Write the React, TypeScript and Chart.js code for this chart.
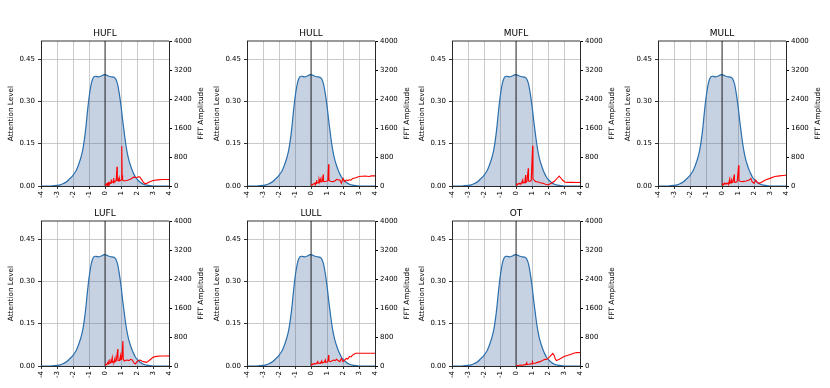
import React, { useEffect, useRef } from "react";
import { Chart, registerables } from "chart.js";

Chart.register(...registerables);

// ---------- data ----------
const panelNames = ["HUFL", "HULL", "MUFL", "MULL", "LUFL", "LULL", "OT"];

const attentionX = [-4, -3.5, -3.2, -3.0, -2.8, -2.6, -2.4, -2.2, -2.0, -1.9, -1.8, -1.7, -1.6, -1.5, -1.4, -1.3, -1.2, -1.1, -1.0, -0.9, -0.8, -0.7, -0.6, -0.5, -0.4, -0.3, -0.2, -0.1, 0, 0.1, 0.2, 0.3, 0.4, 0.5, 0.6, 0.7, 0.8, 0.9, 1.0, 1.1, 1.2, 1.3, 1.4, 1.5, 1.6, 1.7, 1.8, 1.9, 2.0, 2.2, 2.4, 2.6, 2.8, 3.0, 3.5, 4.0];
const attentionLevel = [0, 0, 0.001, 0.002, 0.004, 0.009, 0.015, 0.026, 0.038, 0.046, 0.055, 0.068, 0.084, 0.102, 0.125, 0.16, 0.205, 0.262, 0.312, 0.35, 0.375, 0.387, 0.389, 0.388, 0.387, 0.388, 0.391, 0.394, 0.395, 0.393, 0.39, 0.388, 0.387, 0.386, 0.384, 0.376, 0.358, 0.325, 0.285, 0.235, 0.19, 0.148, 0.115, 0.09, 0.072, 0.056, 0.043, 0.032, 0.024, 0.013, 0.006, 0.003, 0.001, 0, 0, 0];

const fftHUFL: [number, number][] = [[0,30],[0.05,40],[0.1,60],[0.12,45],[0.15,70],[0.18,55],[0.2,80],[0.22,60],[0.25,95],[0.26,60],[0.3,85],[0.33,70],[0.36,110],[0.37,75],[0.4,180],[0.41,90],[0.45,100],[0.5,120],[0.52,95],[0.56,220],[0.57,110],[0.62,130],[0.7,150],[0.75,530],[0.77,160],[0.82,140],[0.88,230],[0.9,140],[0.96,150],[1.02,170],[1.05,1100],[1.07,300],[1.1,170],[1.2,140],[1.35,150],[1.5,170],[1.65,200],[1.8,250],[1.9,235],[2.0,240],[2.1,255],[2.18,250],[2.3,170],[2.42,90],[2.55,60],[2.8,120],[3.0,150],[3.3,170],[3.6,178],[4.0,180]];
const fftHULL: [number, number][] = [[0,30],[0.05,45],[0.1,35],[0.15,60],[0.2,50],[0.25,80],[0.28,55],[0.32,90],[0.35,165],[0.36,80],[0.42,100],[0.48,90],[0.5,185],[0.51,95],[0.56,110],[0.62,210],[0.63,110],[0.7,120],[0.77,320],[0.78,130],[0.85,120],[0.95,130],[1.05,140],[1.1,600],[1.12,160],[1.2,130],[1.35,120],[1.5,140],[1.6,185],[1.7,170],[1.8,165],[1.9,75],[2.0,210],[2.1,120],[2.2,165],[2.3,150],[2.4,170],[2.5,160],[2.6,210],[2.8,230],[3.0,260],[3.2,270],[3.4,275],[3.6,262],[3.8,280],[4.0,280]];
const fftMUFL: [number, number][] = [[0,30],[0.05,50],[0.1,40],[0.15,70],[0.2,55],[0.25,80],[0.3,60],[0.35,90],[0.42,165],[0.43,80],[0.5,100],[0.55,90],[0.6,300],[0.61,100],[0.68,120],[0.77,490],[0.78,140],[0.85,130],[0.95,150],[1.04,1110],[1.06,200],[1.12,170],[1.23,120],[1.4,110],[1.5,90],[1.65,80],[1.8,55],[2.0,30],[2.2,75],[2.4,130],[2.55,200],[2.7,275],[2.8,220],[2.9,165],[3.05,110],[3.2,100],[3.5,100],[3.8,98],[4.0,100]];
const fftMULL: [number, number][] = [[0,30],[0.05,60],[0.1,40],[0.15,80],[0.2,50],[0.25,70],[0.3,90],[0.31,60],[0.38,80],[0.42,70],[0.48,185],[0.49,80],[0.55,90],[0.6,165],[0.61,90],[0.68,100],[0.77,320],[0.78,110],[0.85,100],[0.95,120],[1.04,570],[1.06,150],[1.15,130],[1.3,120],[1.5,140],[1.7,165],[1.8,210],[1.88,120],[2.0,75],[2.1,165],[2.2,100],[2.3,75],[2.45,95],[2.6,140],[2.75,170],[3.0,210],[3.3,260],[3.6,280],[3.8,290],[4.0,295]];
const fftLUFL: [number, number][] = [[0,30],[0.05,50],[0.1,40],[0.15,70],[0.2,120],[0.21,60],[0.25,80],[0.3,185],[0.31,80],[0.38,100],[0.45,230],[0.46,100],[0.52,120],[0.56,110],[0.62,210],[0.63,120],[0.7,140],[0.8,470],[0.81,160],[0.9,150],[0.98,300],[0.99,170],[1.05,180],[1.12,690],[1.14,200],[1.2,140],[1.3,160],[1.4,165],[1.5,150],[1.6,185],[1.7,165],[1.8,90],[1.9,55],[2.0,120],[2.1,150],[2.2,165],[2.3,140],[2.4,120],[2.6,100],[2.8,165],[3.0,240],[3.2,265],[3.5,275],[3.8,275],[4.0,278]];
const fftLULL: [number, number][] = [[0,30],[0.05,50],[0.1,45],[0.2,65],[0.3,60],[0.35,80],[0.42,120],[0.43,70],[0.5,80],[0.58,75],[0.67,140],[0.68,80],[0.75,90],[0.82,100],[0.9,165],[0.91,100],[1.0,110],[1.05,120],[1.1,300],[1.12,150],[1.2,120],[1.3,140],[1.4,165],[1.5,150],[1.6,185],[1.7,150],[1.8,120],[1.9,210],[2.0,120],[2.1,165],[2.2,210],[2.3,190],[2.4,260],[2.5,250],[2.6,300],[2.7,330],[2.8,350],[3.0,352],[3.3,350],[3.6,352],[4.0,350]];
const fftOT: [number, number][] = [[0,10],[0.1,15],[0.2,20],[0.3,25],[0.4,20],[0.5,30],[0.6,35],[0.67,90],[0.68,40],[0.8,50],[0.9,60],[1.0,55],[1.02,150],[1.03,70],[1.1,75],[1.2,75],[1.35,100],[1.5,120],[1.65,150],[1.8,185],[1.9,180],[2.0,210],[2.1,250],[2.2,300],[2.3,350],[2.38,300],[2.45,200],[2.52,150],[2.6,165],[2.7,185],[2.85,220],[3.0,260],[3.2,290],[3.4,320],[3.6,350],[3.8,370],[4.0,372]];

const fftSeries = [fftHUFL, fftHULL, fftMUFL, fftMULL, fftLUFL, fftLULL, fftOT];

const xTickLabels = ["-4", "-3", "-2", "-1", "0", "1", "2", "3", "4"];
const xMin = -4, xMax = 4;
const attnMax = 0.514;
const fftMax = 4000;

// ---------- layout ----------
const LEFT_W = 41;
const RIGHT_W = 42;
const PLOT_W = 128;
const PAD_TOP = 41;
const X_H = 24;
const PLOT_H = 145;
const CANVAS_W = LEFT_W + PLOT_W + RIGHT_W;
const CANVAS_H = PAD_TOP + PLOT_H + X_H;
const FONT = '"DejaVu Sans", "Liberation Sans", sans-serif';

const decorPlugin = {
  id: "decor",
  afterDraw(chart: any, _args: any, opts: any) {
    const { ctx, chartArea: a } = chart;
    ctx.save();
    ctx.strokeStyle = "#000";
    ctx.lineWidth = 0.8;
    ctx.beginPath();
    ctx.moveTo(a.left, a.top);
    ctx.lineTo(a.right, a.top);
    ctx.stroke();
    ctx.fillStyle = "#000";
    ctx.textAlign = "center";
    ctx.textBaseline = "alphabetic";
    ctx.font = `9px ${FONT}`;
    ctx.fillText(opts.title, (a.left + a.right) / 2, a.top - 5);
    const cy = (a.top + a.bottom) / 2;
    ctx.font = `7.3px ${FONT}`;
    ctx.textBaseline = "middle";
    ctx.save();
    ctx.translate(a.left - 29.5, cy);
    ctx.rotate(-Math.PI / 2);
    ctx.fillText("Attention Level", 0, 0);
    ctx.restore();
    ctx.save();
    ctx.translate(a.right + 32.5, cy);
    ctx.rotate(-Math.PI / 2);
    ctx.fillText("FFT Amplitude", 0, 0);
    ctx.restore();
    ctx.restore();
  },
};

function Panel({ index, left, top }: { index: number; left: number; top: number }) {
  const ref = useRef<HTMLCanvasElement | null>(null);
  useEffect(() => {
    if (!ref.current) return;
    const tickFont = { family: FONT, size: 7 };
    const chart = new Chart(ref.current, {
      type: "line",
      data: {
        datasets: [
          {
            data: fftSeries[index].map(([x, y]) => ({ x, y })),
            yAxisID: "y1",
            borderColor: "#ff0000",
            borderWidth: 1.1,
            pointRadius: 0,
            fill: false,
            tension: 0,
            order: 0,
          },
          {
            data: [{ x: 0, y: 0 }, { x: 0, y: attnMax }],
            yAxisID: "y",
            borderColor: "rgba(0,0,0,0.75)",
            borderWidth: 1,
            pointRadius: 0,
            fill: false,
            order: 1,
          },
          {
            data: attentionX.map((x, i) => ({ x, y: attentionLevel[i] })),
            yAxisID: "y",
            borderColor: "#2a6fad",
            borderWidth: 1.2,
            backgroundColor: "rgba(50,90,150,0.28)",
            pointRadius: 0,
            fill: "origin",
            cubicInterpolationMode: "monotone",
            order: 2,
          },
        ],
      },
      options: {
        responsive: false,
        animation: false,
        events: [],
        layout: { padding: { top: PAD_TOP, left: 0, right: 0, bottom: 0 } },
        plugins: {
          legend: { display: false },
          tooltip: { enabled: false },
          title: { display: false },
          decor: { title: panelNames[index] },
        } as any,
        scales: {
          x: {
            type: "linear",
            min: xMin,
            max: xMax,
            afterFit: (s: any) => { s.height = X_H; },
            border: { display: true, color: "#000", width: 0.8 },
            grid: { color: "#bdbdbd", lineWidth: 0.8, tickColor: "#000", tickLength: 3, drawTicks: true },
            ticks: {
              stepSize: 1,
              autoSkip: false,
              minRotation: 90,
              maxRotation: 90,
              padding: 2,
              color: "#000",
              font: tickFont,
              callback: (v: any) => xTickLabels[Math.round(Number(v) - xMin)],
            },
          },
          y: {
            type: "linear",
            position: "left",
            min: 0,
            max: attnMax,
            afterFit: (s: any) => { s.width = LEFT_W; },
            border: { display: true, color: "#000", width: 0.8 },
            grid: { color: "#bdbdbd", lineWidth: 0.8, tickColor: "#000", tickLength: 3, drawTicks: true },
            ticks: {
              stepSize: 0.15,
              includeBounds: false,
              padding: 3,
              color: "#000",
              font: tickFont,
              callback: (v: any) => Number(v).toFixed(2),
            },
          },
          y1: {
            type: "linear",
            position: "right",
            min: 0,
            max: fftMax,
            afterFit: (s: any) => { s.width = RIGHT_W; },
            border: { display: true, color: "#000", width: 0.8 },
            grid: { drawOnChartArea: false, tickColor: "#000", tickLength: 3, drawTicks: true },
            ticks: {
              stepSize: 800,
              padding: 2,
              color: "#000",
              font: tickFont,
              callback: (v: any) => String(v),
            },
          },
        },
      } as any,
      plugins: [decorPlugin],
    });
    return () => chart.destroy();
  }, [index]);
  return (
    <canvas
      ref={ref}
      width={CANVAS_W}
      height={CANVAS_H}
      style={{ position: "absolute", left, top, width: CANVAS_W, height: CANVAS_H }}
    />
  );
}

export default function App() {
  const colLeft = [0, 206, 411, 617];
  const rowTop = [0, 180];
  return (
    <div style={{ position: "absolute", left: 0, top: 0, width: 830, height: 388, overflow: "hidden", background: "#fff" }}>
      {panelNames.map((_, i) => (
        <Panel key={i} index={i} left={colLeft[i % 4]} top={rowTop[Math.floor(i / 4)]} />
      ))}
    </div>
  );
}
